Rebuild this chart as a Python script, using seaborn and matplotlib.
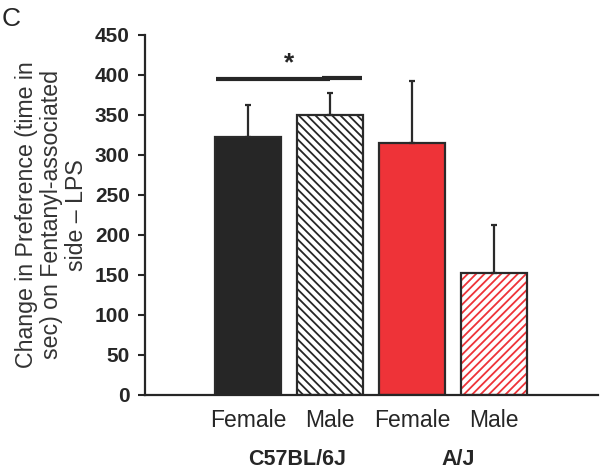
import numpy as np
import pandas as pd
import seaborn as sns
from matplotlib import pyplot as plt
from matplotlib.colors import to_rgba

# values
groups = ['C57 Female', 'C57 Male', 'AJ Female', 'AJ Male']
sex_labels = ['Female', 'Male', 'Female', 'Male']
strain_labels = ['C57BL/6J', 'A/J']
means = [322, 350, 315, 153]
sem = [40, 27, 77, 60]
bar_colors = ['#262626', 'white', '#EE3338', 'white']
hatch_colors = [None, '#262626', None, '#EE3338']
hatches = ['', '\\\\\\\\', '', '////']

df = pd.DataFrame({'group': groups, 'pref': means})

sns.set_style('ticks')
plt.rcParams['font.family'] = ['Liberation Sans', 'DejaVu Sans']
plt.rcParams['hatch.linewidth'] = 1.3

fig = plt.figure(figsize=(6, 4.71), dpi=100)
ax = fig.add_axes([0.2417, 0.1614, 0.755, 0.7643])

sns.barplot(data=df, x='group', y='pref', hue='group', palette=bar_colors,
            width=0.81, edgecolor='#2a2a2a', linewidth=1.6, legend=False,
            saturation=1, ax=ax)

for patch, h, hc in zip(ax.patches, hatches, hatch_colors):
    if h:
        patch.set_hatch(h)
        patch._hatch_color = to_rgba(hc)

# error bars, upper part only
x = np.arange(len(groups))
ax.errorbar(x, means, yerr=[np.zeros(len(sem)), sem], fmt='none',
            ecolor='#2a2a2a', elinewidth=1.6, capsize=2.2, capthick=1.6, zorder=1)

# significance bar (two slightly offset pieces, like the original)
ax.plot([0.9, 1.39], [396.8, 396.8], color='#262626', lw=3, solid_capstyle='butt')
ax.plot([-0.39, 1.0], [395.5, 395.5], color='#262626', lw=3, solid_capstyle='butt')
ax.text(0.5, 400, '*', ha='center', va='bottom', fontsize=19, fontweight='bold')

ax.set_ylim(0, 450)
ax.set_xlim(-1.26, 4.27)
ax.set_yticks(range(0, 451, 50))
ax.tick_params(axis='y', labelsize=15, length=5, width=1.5, color='#262626', pad=6)
for t in ax.get_yticklabels():
    t.set_fontweight('bold')
    t.set_color('#262626')
ax.set_xticks(x)
ax.set_xticklabels(sex_labels, fontsize=16.5, color='#262626')
ax.tick_params(axis='x', length=0, pad=10)
ax.set_xlabel('')
ax.set_ylabel('Change in Preference (time in\nsec) on Fentanyl-associated\nside \u2013 LPS',
              fontsize=16.7, labelpad=5, linespacing=1.1, color='#333333')

for s in ['top', 'right']:
    ax.spines[s].set_visible(False)
for s in ['left', 'bottom']:
    ax.spines[s].set_linewidth(1.6)
    ax.spines[s].set_color('#262626')

ax.text(0.59, -0.178, strain_labels[0], transform=ax.get_xaxis_transform(),
        ha='center', va='center', fontsize=15.5, fontweight='bold', color='#262626')
ax.text(2.56, -0.178, strain_labels[1], transform=ax.get_xaxis_transform(),
        ha='center', va='center', fontsize=15.5, fontweight='bold', color='#262626')

fig.text(0.003, 0.985, 'C', fontsize=19, ha='left', va='top', color='#262626')

fig.savefig('out.png', dpi=100)
